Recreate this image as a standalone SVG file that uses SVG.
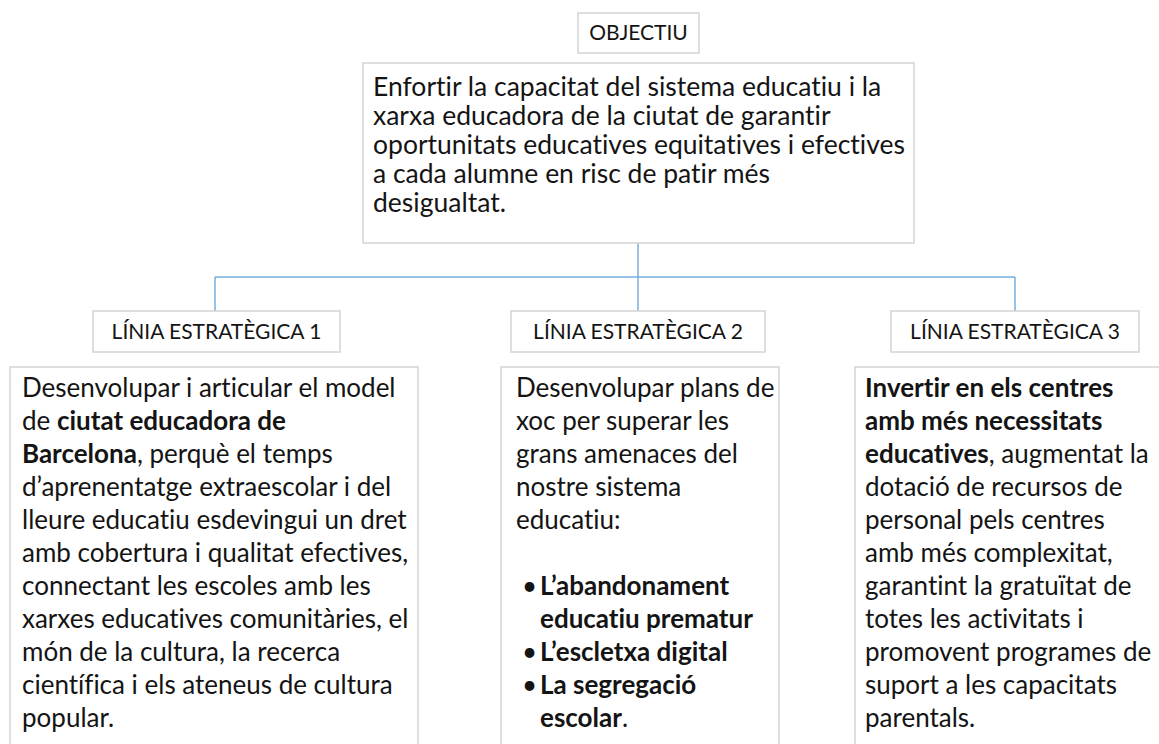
<svg xmlns="http://www.w3.org/2000/svg" width="1159" height="744" viewBox="0 0 1159 744">
<style>
.box{fill:#ffffff;stroke:#d4d4d4;stroke-width:1.5}
.con{stroke:#7aaedc;stroke-width:1.5;fill:none}
text{font-family:Lato,"Liberation Sans",sans-serif;fill:#141414;font-variant-ligatures:none;font-feature-settings:"liga" 0,"clig" 0}
.lbl{font-size:21px;text-anchor:middle}
.obj{font-size:26.5px}
.body{font-size:26px}
.b{font-weight:bold}
</style>
<rect width="1159" height="744" fill="#ffffff"/>
<g id="connectors">
<path class="con" d="M638,243 V277 M215,277 H1015 M215,277 V311 M638,277 V311 M1015,277 V311"/>
</g>
<g id="objectiu-label">
<rect class="box" x="578" y="13" width="121" height="40"/>
<text class="lbl" x="638.5" y="40">OBJECTIU</text>
</g>
<g id="objectiu">
<rect class="box" x="363" y="63" width="551" height="180"/>
<text class="obj">
<tspan x="373" y="96">Enfortir la capacitat del sistema educatiu i la</tspan>
<tspan x="373" y="125">xarxa educadora de la ciutat de garantir</tspan>
<tspan x="373" y="154">oportunitats educatives equitatives i efectives</tspan>
<tspan x="373" y="183">a cada alumne en risc de patir més</tspan>
<tspan x="373" y="212">desigualtat.</tspan>
</text>
</g>
<g id="linia1-label">
<rect class="box" x="93" y="311" width="247" height="41"/>
<text class="lbl" x="216.5" y="339">LÍNIA ESTRATÈGICA 1</text>
</g>
<g id="linia2-label">
<rect class="box" x="511" y="311" width="254" height="41"/>
<text class="lbl" x="638" y="339">LÍNIA ESTRATÈGICA 2</text>
</g>
<g id="linia3-label">
<rect class="box" x="891" y="311" width="248" height="41"/>
<text class="lbl" x="1015" y="339">LÍNIA ESTRATÈGICA 3</text>
</g>
<g id="linia1">
<rect class="box" x="10" y="367" width="408" height="400"/>
<text class="body">
<tspan x="22" y="397">Desenvolupar i articular el model</tspan>
<tspan x="22" y="430">de <tspan class="b">ciutat educadora de</tspan></tspan>
<tspan x="22" y="463"><tspan class="b">Barcelona</tspan>, perquè el temps</tspan>
<tspan x="22" y="496">d’aprenentatge extraescolar i del</tspan>
<tspan x="22" y="529">lleure educatiu esdevingui un dret</tspan>
<tspan x="22" y="562">amb cobertura i qualitat efectives,</tspan>
<tspan x="22" y="595">connectant les escoles amb les</tspan>
<tspan x="22" y="628">xarxes educatives comunitàries, el</tspan>
<tspan x="22" y="661">món de la cultura, la recerca</tspan>
<tspan x="22" y="694">científica i els ateneus de cultura</tspan>
<tspan x="22" y="727">popular.</tspan>
</text>
</g>
<g id="linia2">
<rect class="box" x="501" y="367" width="278" height="400"/>
<text class="body">
<tspan x="516" y="397">Desenvolupar plans de</tspan>
<tspan x="516" y="430">xoc per superar les</tspan>
<tspan x="516" y="463">grans amenaces del</tspan>
<tspan x="516" y="496">nostre sistema</tspan>
<tspan x="516" y="529">educatiu:</tspan>
<tspan x="522" y="595">•</tspan><tspan x="540" y="595" class="b">L’abandonament</tspan>
<tspan x="540" y="628" class="b">educatiu prematur</tspan>
<tspan x="522" y="661">•</tspan><tspan x="540" y="661" class="b">L’escletxa digital</tspan>
<tspan x="522" y="694">•</tspan><tspan x="540" y="694" class="b">La segregació</tspan>
<tspan x="540" y="727"><tspan class="b">escolar</tspan>.</tspan>
</text>
</g>
<g id="linia3">
<rect class="box" x="855" y="367" width="320" height="400"/>
<text class="body">
<tspan x="865" y="397" class="b">Invertir en els centres</tspan>
<tspan x="865" y="430" class="b">amb més necessitats</tspan>
<tspan x="865" y="463"><tspan class="b">educatives</tspan>, augmentat la</tspan>
<tspan x="865" y="496">dotació de recursos de</tspan>
<tspan x="865" y="529">personal pels centres</tspan>
<tspan x="865" y="562">amb més complexitat,</tspan>
<tspan x="865" y="595">garantint la gratuïtat de</tspan>
<tspan x="865" y="628">totes les activitats i</tspan>
<tspan x="865" y="661">promovent programes de</tspan>
<tspan x="865" y="694">suport a les capacitats</tspan>
<tspan x="865" y="727">parentals.</tspan>
</text>
</g>
</svg>
